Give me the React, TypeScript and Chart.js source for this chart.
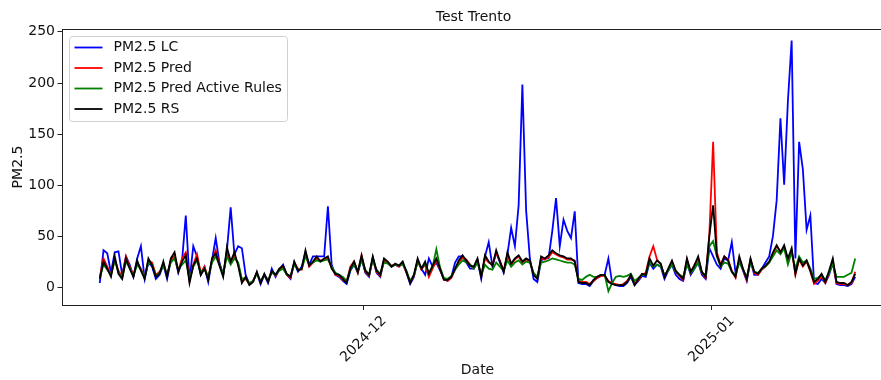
import React, { useEffect, useRef } from "react";
import { Chart, registerables } from "chart.js";

Chart.register(...registerables);

// Sampling: every 8 hours, starting 2024-11-07 12:00 (days relative to 2024-12-01)
const START_DAY = -23.5;
const STEP_DAYS = 1 / 3;

const X_TICK_VALUES = [0, 31];
const X_TICK_LABELS = ["2024-12", "2025-01"];
const Y_TICKS = [0, 50, 100, 150, 200, 250];

const TITLE = "Test Trento";
const X_LABEL = "Date";
const Y_LABEL = "PM2.5";

const SERIES_NAMES = ["PM2.5 LC", "PM2.5 Pred", "PM2.5 Pred Active Rules", "PM2.5 RS"];
const SERIES_COLORS = ["#0000ff", "#ff0000", "#008000", "#000000"];

const PM25_LC = [
  4, 36, 33, 14, 34, 35, 12, 30, 22, 10,
  28, 40, 8, 24, 20, 8, 12, 22, 8, 26,
  30, 14, 26, 70, 6, 40, 30, 12, 20, 5,
  26, 48, 24, 12, 36, 78, 32, 40, 38, 12,
  3, 6, 14, 3, 12, 4, 18, 10, 17, 22,
  12, 8, 24, 15, 20, 34, 22, 30, 30, 30,
  30, 79, 22, 12, 10, 6, 3, 16, 22, 14,
  28, 14, 10, 29, 14, 10, 26, 24, 20, 22,
  20, 24, 14, 3, 10, 26, 18, 12, 28, 20,
  24, 16, 8, 6, 10, 24, 30, 30, 24, 18,
  18, 26, 8, 30, 44, 20, 34, 24, 14, 32,
  58, 40, 80, 198, 75, 28, 8, 5, 26, 28,
  28, 55, 87, 40, 66, 55, 48, 74, 4, 3,
  3, 1, 6, 9, 11, 12, 28, 4, 2, 1,
  1, 4, 10, 2, 6, 11, 10, 24, 18, 22,
  20, 8, 16, 22, 12, 8, 6, 24, 12, 18,
  24, 12, 8, 38, 30, 22, 18, 28, 26, 44,
  14, 26, 16, 6, 26, 12, 12, 18, 24, 30,
  50, 85, 165, 100, 182, 241, 28, 142, 115, 56,
  70, 4, 3, 8, 4, 12, 24, 3, 2, 2,
  1, 3, 10,
];

const PM25_PRED = [
  10, 28, 20, 12, 27, 16, 10, 30, 20, 12,
  24, 18, 10, 26, 24, 12, 15, 22, 12, 26,
  30, 16, 28, 34, 6, 22, 32, 14, 20, 9,
  26, 36, 22, 12, 34, 24, 30, 23, 6, 8,
  3, 6, 14, 5, 12, 6, 15, 11, 17, 20,
  12, 9, 24, 18, 17, 33, 20, 24, 28, 26,
  27, 28, 19, 12, 11, 7, 5, 20, 25, 14,
  31, 15, 11, 28, 15, 11, 26, 24, 21, 22,
  20, 23, 14, 5, 11, 26, 17, 22, 10, 18,
  26, 17, 8, 6, 9, 17, 24, 29, 27, 22,
  18, 26, 11, 28, 24, 22, 33, 26, 16, 31,
  22, 27, 30, 24, 27, 25, 13, 9, 28, 27,
  29, 34, 32, 30, 29, 27, 27, 26, 6, 5,
  5, 3, 6, 9, 11, 11, 6, 4, 3, 2,
  3, 6, 11, 3, 7, 12, 14, 30, 40, 27,
  22, 11, 17, 25, 15, 11, 7, 27, 14, 22,
  28, 14, 9, 52, 142, 34, 22, 30, 27, 16,
  9, 28, 17, 7, 27, 14, 12, 17, 20, 24,
  32, 40, 35, 38, 27, 36, 12, 27, 20, 25,
  15, 3, 6, 11, 4, 14, 26, 4, 3, 3,
  2, 4, 15,
];

const PM25_PRED_ACTIVE = [
  9, 22, 17, 12, 26, 14, 9, 25, 19, 11,
  22, 17, 10, 24, 22, 11, 14, 21, 13, 24,
  28, 17, 22, 26, 8, 20, 26, 14, 18, 10,
  24, 30, 22, 13, 30, 22, 28, 24, 8, 9,
  4, 6, 13, 6, 12, 7, 14, 12, 16, 18,
  12, 11, 22, 17, 18, 30, 22, 24, 26, 25,
  26, 27, 20, 14, 12, 10, 6, 17, 22, 15,
  26, 17, 12, 26, 17, 13, 24, 23, 20, 22,
  21, 22, 16, 6, 12, 24, 19, 22, 14, 20,
  37, 19, 9, 8, 11, 17, 22, 26, 24, 22,
  18, 24, 12, 22, 18, 17, 24, 20, 16, 26,
  20, 24, 26, 22, 25, 24, 14, 10, 24, 25,
  26, 28, 27, 26, 25, 24, 24, 22, 8, 7,
  10, 12, 10, 10, 12, 12, -4, 4, 10, 11,
  10, 11, 13, 6, 9, 12, 12, 24, 20, 22,
  20, 12, 16, 22, 15, 12, 10, 22, 14, 18,
  24, 14, 12, 40, 45, 30, 20, 24, 23, 15,
  12, 24, 17, 10, 24, 15, 14, 18, 20, 24,
  30, 36, 32, 38, 22, 34, 18, 30, 24, 26,
  18, 8, 9, 12, 7, 14, 22, 10, 10, 10,
  12, 14, 28,
];

const PM25_RS = [
  8, 25, 18, 10, 30, 13, 8, 28, 18, 10,
  26, 16, 8, 28, 21, 10, 13, 25, 10, 28,
  34, 15, 25, 31, 4, 21, 28, 12, 18, 7,
  28, 33, 21, 10, 39, 25, 34, 21, 4, 10,
  2, 5, 15, 4, 13, 5, 16, 12, 18, 21,
  13, 10, 25, 16, 18, 36, 21, 25, 30, 25,
  28, 30, 18, 13, 12, 8, 4, 18, 25, 15,
  31, 16, 12, 30, 16, 12, 28, 25, 20, 23,
  21, 25, 15, 4, 12, 28, 18, 25, 13, 21,
  28, 18, 7, 7, 10, 18, 26, 31, 26, 21,
  20, 28, 10, 31, 25, 21, 36, 25, 15, 34,
  23, 28, 31, 25, 28, 26, 12, 8, 30, 28,
  31, 36, 33, 31, 30, 28, 28, 25, 5, 4,
  4, 2, 7, 10, 12, 12, 5, 3, 2, 2,
  2, 5, 12, 2, 8, 13, 12, 28, 21, 26,
  23, 10, 18, 26, 16, 12, 8, 28, 15, 21,
  30, 15, 10, 50, 80, 31, 21, 30, 26, 15,
  10, 30, 18, 8, 28, 15, 13, 18, 21, 25,
  34, 41, 34, 41, 28, 38, 13, 28, 21, 26,
  16, 5, 8, 13, 5, 16, 28, 5, 4, 4,
  2, 5, 13,
];

const FONT = "14px 'DejaVu Sans', sans-serif";
const TEXT_COLOR = "#111";

const decorPlugin = {
  id: "decor",
  afterDatasetsDraw(chart: any) {
    const ctx = chart.ctx as CanvasRenderingContext2D;
    const area = chart.chartArea;
    const xs = chart.scales.x;
    const ys = chart.scales.y;
    ctx.save();
    // spines
    ctx.strokeStyle = "#222";
    ctx.lineWidth = 1;
    ctx.strokeRect(area.left + 0.5, area.top + 0.5, area.right - area.left, area.bottom - area.top);

    ctx.font = FONT;
    ctx.fillStyle = TEXT_COLOR;
    // y ticks
    ctx.textAlign = "right";
    ctx.textBaseline = "middle";
    Y_TICKS.forEach((v) => {
      const y = Math.round(ys.getPixelForValue(v)) + 0.5;
      ctx.beginPath();
      ctx.moveTo(area.left - 4.5, y);
      ctx.lineTo(area.left, y);
      ctx.stroke();
      ctx.fillText(String(v), area.left - 7, y);
    });
    // x ticks
    X_TICK_VALUES.forEach((v, i) => {
      const x = Math.round(xs.getPixelForValue(v)) + 0.5;
      ctx.beginPath();
      ctx.moveTo(x, area.bottom);
      ctx.lineTo(x, area.bottom + 5);
      ctx.stroke();
      const label = X_TICK_LABELS[i];
      const w = ctx.measureText(label).width;
      const h = 16;
      const bh = (w + h) * Math.SQRT1_2;
      ctx.save();
      ctx.translate(x, area.bottom + 8 + bh / 2);
      ctx.rotate(-Math.PI / 4);
      ctx.textAlign = "center";
      ctx.textBaseline = "middle";
      ctx.fillText(label, 0, 0);
      ctx.restore();
    });
    // title & axis labels
    const cx = (area.left + area.right) / 2;
    ctx.textAlign = "center";
    ctx.textBaseline = "middle";
    ctx.fillText(TITLE, cx - 4, 17);
    ctx.fillText(X_LABEL, cx, 370);
    ctx.save();
    ctx.translate(18, (area.top + area.bottom) / 2);
    ctx.rotate(-Math.PI / 2);
    ctx.fillText(Y_LABEL, 0, 0);
    ctx.restore();

    // legend
    const lx = area.left + 7.5;
    const ly = area.top + 7.5;
    const lw = 218;
    const lh = 85;
    const r = 3;
    ctx.beginPath();
    ctx.moveTo(lx + r, ly);
    ctx.lineTo(lx + lw - r, ly);
    ctx.quadraticCurveTo(lx + lw, ly, lx + lw, ly + r);
    ctx.lineTo(lx + lw, ly + lh - r);
    ctx.quadraticCurveTo(lx + lw, ly + lh, lx + lw - r, ly + lh);
    ctx.lineTo(lx + r, ly + lh);
    ctx.quadraticCurveTo(lx, ly + lh, lx, ly + lh - r);
    ctx.lineTo(lx, ly + r);
    ctx.quadraticCurveTo(lx, ly, lx + r, ly);
    ctx.closePath();
    ctx.fillStyle = "rgba(255,255,255,0.8)";
    ctx.fill();
    ctx.strokeStyle = "#d0d0d0";
    ctx.lineWidth = 1;
    ctx.stroke();
    ctx.textAlign = "left";
    ctx.textBaseline = "middle";
    SERIES_NAMES.forEach((name, i) => {
      const y = ly + 11 + i * 20.5;
      ctx.strokeStyle = SERIES_COLORS[i];
      ctx.lineWidth = 1.8;
      ctx.beginPath();
      ctx.moveTo(lx + 5, y);
      ctx.lineTo(lx + 33, y);
      ctx.stroke();
      ctx.fillStyle = TEXT_COLOR;
      ctx.fillText(name, lx + 44, y);
    });
    ctx.restore();
  },
};

export default function App() {
  const canvasRef = useRef<HTMLCanvasElement | null>(null);

  useEffect(() => {
    if (!canvasRef.current) return;
    const seriesValues = [PM25_LC, PM25_PRED, PM25_PRED_ACTIVE, PM25_RS];
    const n = PM25_RS.length;
    const firstX = START_DAY;
    const lastX = START_DAY + (n - 1) * STEP_DAYS;
    const span = lastX - firstX;
    const datasets = seriesValues.map((vals, k) => ({
      label: SERIES_NAMES[k],
      data: vals.map((v, i) => ({ x: START_DAY + i * STEP_DAYS, y: v })),
      borderColor: SERIES_COLORS[k],
      backgroundColor: SERIES_COLORS[k],
      borderWidth: 1.8,
      pointRadius: 0,
      tension: 0,
      fill: false,
      order: 4 - k,
    }));
    const chart = new Chart(canvasRef.current, {
      type: "line",
      data: { datasets },
      options: {
        animation: false,
        responsive: true,
        maintainAspectRatio: false,
        devicePixelRatio: 1,
        layout: { padding: { left: 62, top: 29, right: 7, bottom: 75 } },
        plugins: { legend: { display: false }, tooltip: { enabled: false }, title: { display: false } },
        scales: {
          x: { type: "linear", display: false, min: firstX - 0.05 * span, max: lastX + 0.05 * span },
          y: { type: "linear", display: false, min: -17.5, max: 252.3 },
        },
      },
      plugins: [decorPlugin],
    });
    return () => chart.destroy();
  }, []);

  return (
    <div style={{ position: "fixed", left: 0, top: 0, width: 881, height: 380, overflow: "hidden", background: "#fff" }}>
      <div style={{ position: "relative", width: 900, height: 380 }}>
        <canvas ref={canvasRef} />
      </div>
    </div>
  );
}
